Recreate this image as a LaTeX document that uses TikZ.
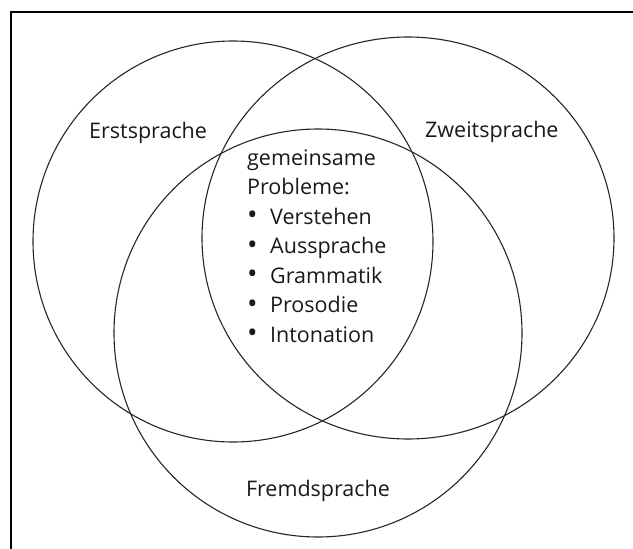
\documentclass[tikz,border=0pt]{standalone}
\usepackage{fontspec}
\setmainfont{Open Sans}
\usetikzlibrary{positioning,shapes.geometric}

\newcommand{\itm}{\makebox[23pt][l]{\hspace{0pt}\raisebox{-0.5pt}{\fontsize{28}{0}\selectfont\textbullet}}}

\begin{document}
\begin{tikzpicture}[x=1pt, y=-1pt,
    ring/.style={ellipse, draw=black!85, line width=1.1pt, inner sep=0pt},
    lbl/.style={font=\fontsize{21.5}{29.5}\selectfont, inner sep=0pt, text=black!90},
]
\useasboundingbox (0,0) rectangle (633,549);
% frame
\draw[line width=1.8pt] (11,549) |- (633,12);
% the three circles
\node[ring, minimum width=400pt, minimum height=401pt] (erst) at (233,241.5) {};
\node[ring, minimum width=412pt, minimum height=402pt] (zweit) at (408,238) {};
\node[ring, minimum width=408pt, minimum height=408pt] (fremd) at (318,333) {};

\node[lbl, anchor=base west] (erstlbl) at (89,138) {Erstsprache};
\node[lbl, anchor=base west] (zweitlbl) at (425,137) {Zweitsprache};
\node[lbl, anchor=base] (fremdlbl) at (318,496) {Fremdsprache};

\node[lbl, anchor=base west, align=left] (common) at (247,342)
    {gemeinsame\\Probleme:\\\itm Verstehen\\\itm Aussprache\\\itm Grammatik\\\itm Prosodie\\\itm Intonation};
\end{tikzpicture}
\end{document}
